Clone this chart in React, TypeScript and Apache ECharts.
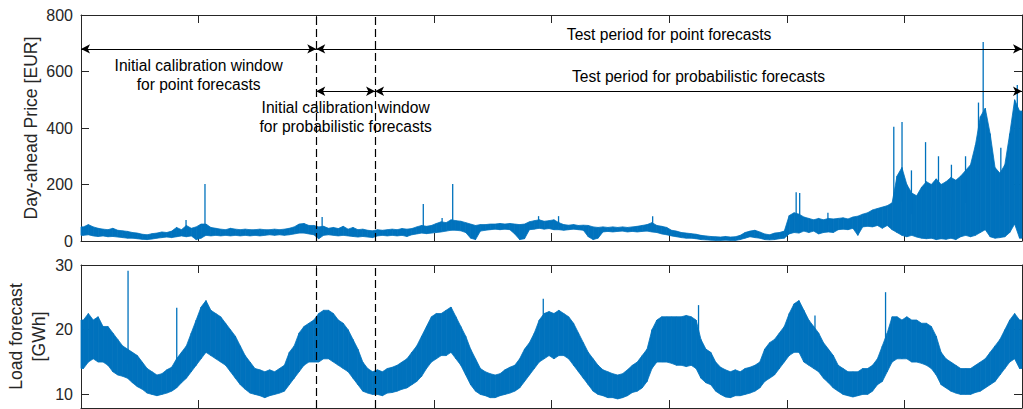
import React, { useEffect, useRef } from 'react';
import * as echarts from 'echarts';

// ---------- data ----------
const PER_YEAR = 24; // half-month buckets
const YEARS = 8;
const CAL_POINT_END = 2; // end of initial calibration window for point forecasts (years)
const CAL_PROB_END = 2.5; // end of initial calibration window for probabilistic forecasts
const ROW1 = 680; // EUR level of first arrow row
const ROW2 = 530; // EUR level of second arrow row

// Day-ahead price: per bucket low / high envelope (EUR)
const priceLo = [
  20, 22, 18, 16, 18, 15, 16, 14, 12, 10, 10, 8, 6, 5, 7, 10, 12, 14, 12, 15, 18, 15, 18, 5,
  10, 20, 18, 20, 18, 20, 18, 20, 18, 20, 18, 20, 18, 20, 22, 20, 22, 20, 22, 25, 28, 28, 25, 22,
  8, 20, 22, 20, 18, 20, 18, 16, 14, 16, 14, 12, 18, 20, 18, 20, 18, 20, 16, 22, 25, 28, 26, 28,
  30, 32, 35, 38, 38, 36, 30, 10, 5, 35, 38, 40, 42, 40, 42, 40, 25, 5, 8, 40, 42, 45, 42, 44,
  40, 40, 38, 40, 42, 40, 38, 15, 5, 10, 32, 34, 32, 34, 35, 32, 34, 32, 34, 35, 32, 30, 25, 22,
  18, 15, 12, 10, 10, 8, 5, 4, 3, 2, 2, 3, 2, 2, 5, 10, 15, 12, 10, 5, 4, 5, 8, 10,
  25, 30, 28, 35, 30, 35, 25, 30, 32, 30, 40, 42, 40, 45, 20, 50, 52, 50, 55, 45, 55, 40, 30, 20,
  15, 20, 14, 10, 8, 10, 5, 8, 6, 10, 5, 15, 20, 15, 20, 30, 40, 15, 10, 12, 15, 30, 60, 10,
];
const priceHi = [
  50, 58, 50, 45, 42, 40, 45, 38, 36, 34, 30, 28, 24, 22, 26, 28, 32, 30, 35, 48, 40, 55, 45, 50,
  60, 60, 48, 45, 42, 40, 45, 42, 40, 42, 40, 40, 42, 40, 40, 42, 40, 42, 45, 50, 60, 62, 55, 55,
  50, 52, 45, 48, 44, 52, 42, 48, 40, 42, 38, 36, 40, 38, 40, 42, 40, 44, 42, 44, 50, 55, 52, 55,
  62, 68, 65, 75, 72, 70, 65, 60, 55, 58, 58, 60, 60, 62, 60, 62, 60, 58, 60, 68, 72, 75, 70, 72,
  75, 65, 58, 56, 58, 55, 56, 55, 50, 48, 50, 48, 50, 48, 50, 48, 50, 52, 55, 58, 65, 55, 52, 48,
  38, 35, 30, 28, 26, 24, 20, 18, 16, 15, 14, 16, 14, 15, 20, 30, 35, 38, 32, 25, 22, 28, 30, 35,
  90, 100, 95, 85, 80, 75, 80, 75, 80, 78, 80, 82, 78, 85, 88, 95, 100, 110, 115, 120, 125, 135, 230, 260,
  200, 170, 160, 190, 210, 200, 220, 200, 210, 225, 215, 230, 250, 270, 340, 440, 470, 380, 260, 240, 270, 380, 500, 460,
];
// isolated price spikes: [year, EUR]
const priceSpikes = [
  [0.893, 74], [1.054, 202], [2.05, 85], [2.91, 131], [3.07, 81], [3.16, 202], [3.89, 88],
  [4.06, 88], [4.86, 88], [6.08, 173], [6.11, 170], [6.35, 100], [6.91, 404], [6.98, 421],
  [7.06, 250], [7.18, 350], [7.29, 300], [7.40, 270], [7.52, 300], [7.63, 490], [7.67, 704],
  [7.82, 330], [7.96, 552],
];

// Load forecast: per bucket low / high envelope (GWh)
const loadLo = [
  14.0, 15.0, 15.5, 15.0, 15.0, 14.5, 13.5, 13.0, 12.8, 12.5, 11.8, 11.2, 10.8, 10.2, 10.0, 9.8, 10.0, 10.2, 10.5, 11.0, 11.8, 12.5, 13.5, 14.5,
  15.5, 16.5, 16.0, 15.5, 15.0, 14.5, 13.5, 12.5, 11.5, 10.8, 10.2, 10.0, 9.8, 9.5, 9.8, 10.0, 10.2, 10.5, 11.5, 12.5, 13.5, 14.5, 15.0, 15.0,
  15.0, 15.5, 15.5, 15.0, 14.5, 14.0, 13.5, 12.5, 11.5, 10.5, 10.2, 10.0, 10.0, 9.8, 10.2, 10.3, 10.5, 10.8, 11.0, 11.5, 12.0, 12.8, 14.0, 15.0,
  15.5, 16.0, 16.0, 16.5, 15.5, 14.5, 13.0, 11.5, 10.5, 10.0, 9.8, 9.5, 9.5, 9.8, 10.0, 10.2, 10.5, 11.0, 12.0, 13.0, 14.0, 15.0, 15.5, 16.0,
  15.5, 16.0, 16.0, 15.5, 14.5, 13.5, 12.5, 11.5, 10.5, 10.0, 9.8, 9.5, 9.5, 9.3, 9.5, 9.8, 10.3, 10.5, 11.0, 12.0, 14.0, 15.0, 15.0, 15.0,
  14.8, 14.5, 14.5, 14.3, 14.5, 14.0, 12.5, 11.8, 11.5, 10.5, 10.0, 9.6, 9.5, 9.8, 9.8, 10.0, 10.2, 10.5, 11.0, 12.0, 12.5, 13.0, 14.0, 15.0,
  16.0, 16.5, 16.5, 15.0, 14.5, 14.0, 13.5, 12.5, 11.8, 11.0, 10.5, 10.0, 9.8, 9.6, 9.8, 10.0, 10.0, 10.5, 11.5, 12.0, 13.5, 15.0, 15.5, 15.5,
  15.5, 15.0, 15.0, 14.8, 14.5, 14.0, 13.0, 11.5, 11.0, 10.5, 10.2, 10.0, 10.0, 10.0, 10.3, 10.5, 11.0, 11.5, 12.0, 13.0, 14.0, 15.0, 15.5, 14.0,
];
const loadHi = [
  21.5, 22.5, 21.5, 22.0, 20.5, 20.5, 19.5, 18.5, 17.5, 17.0, 16.5, 16.0, 15.0, 14.0, 13.5, 13.0, 13.2, 13.8, 14.2, 15.5, 16.5, 17.5, 19.5, 21.5,
  23.5, 24.5, 23.0, 22.5, 22.0, 21.0, 20.0, 19.0, 17.5, 16.0, 15.0, 14.0, 13.8, 13.5, 13.8, 13.5, 14.0, 14.5, 16.5, 17.5, 19.5, 20.5, 21.0, 21.5,
  22.5, 23.0, 23.0, 22.5, 21.5, 21.0, 20.0, 18.5, 17.0, 15.0, 14.0, 13.5, 13.8, 13.5, 14.0, 14.2, 14.5, 15.0, 15.5, 16.5, 17.5, 19.0, 20.5, 22.0,
  22.5, 22.5, 23.0, 23.5, 22.0, 20.5, 19.0, 17.0, 15.5, 14.0, 13.5, 13.2, 13.0, 13.2, 13.8, 14.2, 14.5, 15.5, 17.0, 18.0, 19.5, 21.5, 22.5, 22.8,
  22.5, 23.0, 22.5, 22.0, 21.0, 19.5, 18.0, 16.5, 15.5, 14.5, 13.8, 13.5, 13.2, 13.0, 13.2, 13.8, 14.5, 15.0, 16.0, 17.0, 20.0, 21.5, 22.0, 22.0,
  22.0, 22.0, 22.0, 22.2, 22.0, 21.5, 18.5, 17.0, 16.5, 15.0, 14.2, 13.8, 13.5, 13.8, 13.5, 14.0, 14.2, 14.5, 15.0, 17.0, 18.0, 18.5, 19.5, 20.5,
  22.5, 24.0, 24.5, 23.0, 21.5, 20.5, 19.5, 18.0, 17.0, 16.0, 14.5, 14.0, 13.5, 13.5, 13.5, 14.0, 14.0, 14.5, 15.5, 17.5, 19.5, 22.0, 22.0, 21.5,
  22.0, 21.5, 21.5, 21.0, 21.0, 20.5, 19.0, 16.5, 15.5, 15.0, 14.5, 14.0, 14.0, 14.0, 14.5, 15.0, 15.5, 16.5, 17.5, 18.5, 20.0, 21.5, 22.5, 21.5,
];
// isolated load spikes: [year, GWh]
const loadSpikes = [
  [0.40, 29.1], [0.814, 23.4], [3.93, 24.8], [5.25, 23.8], [6.24, 22.2], [6.84, 25.8],
];

const priceTicks = [0, 200, 400, 600, 800];
const loadTicks = [10, 20, 30];

// ---------- styling ----------
const BLUE = '#0072BD';
const AX = '#262626';
const FONT = '"Liberation Sans", Arial, Helvetica, sans-serif';

function xAx(grid: number, pos: string) {
  return {
    type: 'value', gridIndex: grid, position: pos, min: 0, max: YEARS, interval: 1,
    axisLine: { show: true, onZero: false, lineStyle: { color: AX, width: 1 } },
    axisTick: { show: true, inside: true, length: 8, lineStyle: { color: AX, width: 1 } },
    axisLabel: { show: false }, splitLine: { show: false },
  };
}

// band drawn as quads between consecutive bucket centres: [x0, lo0, hi0, x1, lo1, hi1]
function bandSeries(lo: number[], hi: number[], xi: number, yi: number, markLine?: any) {
  const xs = lo.map((_, i) => (i + 0.5) / PER_YEAR);
  const segs: number[][] = [];
  segs.push([0, lo[0], hi[0], xs[0], lo[0], hi[0]]);
  for (let i = 0; i < xs.length - 1; i++) segs.push([xs[i], lo[i], hi[i], xs[i + 1], lo[i + 1], hi[i + 1]]);
  const n = xs.length - 1;
  segs.push([xs[n], lo[n], hi[n], YEARS, lo[n], hi[n]]);
  return {
    type: 'custom', xAxisIndex: xi, yAxisIndex: yi, data: segs,
    encode: { x: [0, 3], y: [1, 2, 4, 5] }, z: 2,
    renderItem: (_p: any, api: any) => {
      const a = api.coord([api.value(0), api.value(1)]);
      const b = api.coord([api.value(3), api.value(4)]);
      const c = api.coord([api.value(3), api.value(5)]);
      const d = api.coord([api.value(0), api.value(2)]);
      return {
        type: 'polygon', shape: { points: [a, b, c, d] },
        style: { fill: BLUE, stroke: BLUE, lineWidth: 0.8 },
      };
    },
    ...(markLine ? { markLine } : {}),
  };
}

function spikeSeries(spikes: number[][], lo: number[], hi: number[], xi: number, yi: number) {
  return {
    type: 'custom', xAxisIndex: xi, yAxisIndex: yi, data: spikes, encode: { x: 0, y: 1 }, z: 3,
    renderItem: (_p: any, api: any) => {
      const x = api.value(0);
      const v = api.value(1);
      const idx = Math.max(0, Math.min(lo.length - 1, Math.floor(x * PER_YEAR)));
      const base = (lo[idx] + hi[idx]) / 2;
      const a = api.coord([x, base]);
      const b = api.coord([x, v]);
      return { type: 'line', shape: { x1: a[0], y1: a[1], x2: b[0], y2: b[1] }, style: { stroke: BLUE, lineWidth: 1.3 } };
    },
  };
}

const dashedItem = (x: number) => ({
  xAxis: x, symbol: 'none', label: { show: false },
  lineStyle: { type: [8, 4], color: '#000', width: 1.2 },
});

const annLabel = (text: string, position: string, distance: number) => ({
  show: true, position, formatter: text, color: '#000', fontSize: 15.6,
  fontFamily: FONT, lineHeight: 19, distance,
});

const arrowPair = (x0: number, x1: number, y: number, label?: any) => [
  { coord: [x0, y], symbol: 'arrow', lineStyle: { color: '#000', width: 1, type: 'solid' }, label: label || { show: false } },
  { coord: [x1, y], symbol: 'arrow' },
];

const topMarkLine = {
  silent: true, animation: false, symbol: ['none', 'none'], symbolSize: [7, 9],
  data: [
    dashedItem(CAL_POINT_END),
    dashedItem(CAL_PROB_END),
    arrowPair(0, CAL_POINT_END, ROW1, annLabel('Initial calibration window\nfor point forecasts', 'insideMiddleBottom', 7)),
    arrowPair(CAL_POINT_END, YEARS, ROW1, annLabel('Test period for point forecasts', 'insideMiddleTop', 5)),
    arrowPair(CAL_POINT_END, CAL_PROB_END, ROW2, annLabel('Initial calibration window\nfor probabilistic forecasts', 'insideMiddleBottom', 7)),
    arrowPair(CAL_PROB_END, YEARS, ROW2, annLabel('Test period for probabilistic forecasts', 'insideMiddleTop', 5)),
  ],
};
const bottomMarkLine = {
  silent: true, animation: false, symbol: ['none', 'none'],
  data: [dashedItem(CAL_POINT_END), dashedItem(CAL_PROB_END)],
};

const labelStyle = { color: AX, fontSize: 16, fontFamily: FONT, margin: 8 };
const nameStyle = { color: AX, fontSize: 17.6, fontFamily: FONT, lineHeight: 23 };
const yLine = { show: true, onZero: false, lineStyle: { color: AX, width: 1 } };
const yTick = { show: true, inside: true, length: 8, lineStyle: { color: AX, width: 1 } };

const option: any = {
  animation: false,
  grid: [
    { left: 81, right: 1, top: 15, height: 226, containLabel: false, outerBoundsMode: 'none' },
    { left: 81, right: 1, top: 265, height: 143, containLabel: false, outerBoundsMode: 'none' },
  ],
  xAxis: [xAx(0, 'bottom'), xAx(0, 'top'), xAx(1, 'bottom'), xAx(1, 'top')],
  yAxis: [
    {
      type: 'value', gridIndex: 0, position: 'left', min: priceTicks[0], max: priceTicks[priceTicks.length - 1], interval: 200,
      axisLine: yLine, axisTick: yTick, axisLabel: labelStyle, splitLine: { show: false },
      name: 'Day-ahead Price [EUR]', nameLocation: 'middle', nameGap: 39, nameMoveOverlap: false, nameTextStyle: nameStyle,
    },
    {
      type: 'value', gridIndex: 0, position: 'right', min: 0, max: 800, interval: 200,
      axisLine: yLine, axisTick: yTick, axisLabel: { show: false }, splitLine: { show: false },
    },
    {
      type: 'value', gridIndex: 1, position: 'left', min: 7.9, max: 30,
      axisLine: yLine, axisTick: { ...yTick, customValues: loadTicks },
      axisLabel: { ...labelStyle, customValues: loadTicks }, splitLine: { show: false },
      name: 'Load forecast\n[GWh]', nameLocation: 'middle', nameGap: 31, nameMoveOverlap: false, nameTextStyle: nameStyle,
    },
    {
      type: 'value', gridIndex: 1, position: 'right', min: 7.9, max: 30,
      axisLine: yLine, axisTick: { ...yTick, customValues: loadTicks },
      axisLabel: { show: false }, splitLine: { show: false },
    },
  ],
  series: [
    bandSeries(priceLo, priceHi, 0, 0, topMarkLine),
    spikeSeries(priceSpikes, priceLo, priceHi, 0, 0),
    bandSeries(loadLo, loadHi, 2, 2, bottomMarkLine),
    spikeSeries(loadSpikes, loadLo, loadHi, 2, 2),
  ],
};

export default function App() {
  const ref = useRef<HTMLDivElement>(null);
  useEffect(() => {
    const chart = echarts.init(ref.current!, null, { renderer: 'svg' });
    chart.setOption(option);
    return () => chart.dispose();
  }, []);
  return <div ref={ref} style={{ position: 'absolute', left: 0, top: 0, width: 1023, height: 409 }} />;
}
